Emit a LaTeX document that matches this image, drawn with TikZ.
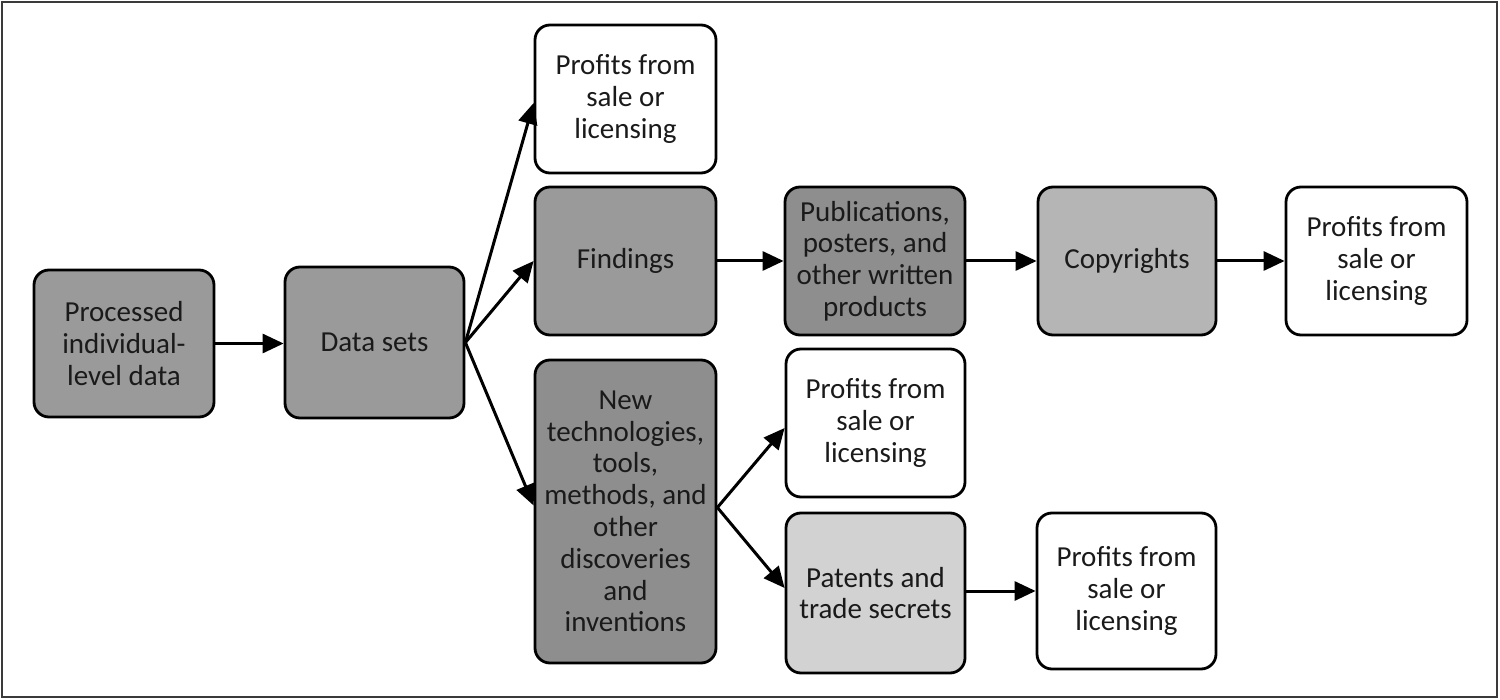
\documentclass[tikz,border=0pt]{standalone}
\usepackage{fontspec}
\setmainfont{Carlito}
\usetikzlibrary{arrows.meta,calc}
\definecolor{gA}{HTML}{9A9A9A}
\definecolor{gB}{HTML}{8E8E8E}
\definecolor{gC}{HTML}{B5B5B5}
\definecolor{gD}{HTML}{D2D2D2}
\definecolor{frameC}{HTML}{3A3A3A}
\definecolor{txt}{HTML}{1A1A1A}
\begin{document}
\begin{tikzpicture}[x=0.5pt,y=-0.5pt,
  box/.style={draw=black,line width=1.4pt,rounded corners=7.5pt,align=center,text=txt,
    font=\fontsize{14.5}{15.9}\selectfont,inner sep=1pt},
  arr/.style={line width=1.5pt,-{Triangle[length=10.5pt,width=9.5pt]}}]
\useasboundingbox (0,0) rectangle (1500,700);
\draw[frameC,line width=1.2pt] (2,2) rectangle (1497,697);
\node[box,fill=gA,minimum width=90pt,minimum height=73.5pt] (proc) at (124,343.5) {Processed\\individual-\\level data};
\node[box,fill=gA,minimum width=89.5pt,minimum height=75.5pt] (data) at (374.5,342.5) {Data sets};
\node[box,fill=white,minimum width=90.5pt,minimum height=74pt] (p1) at (625.5,99) {Profits from\\sale or\\licensing};
\node[box,fill=gA,minimum width=90.5pt,minimum height=74pt] (find) at (625.5,261) {Findings};
\node[box,fill=gB,minimum width=90pt,minimum height=74pt] (pub) at (875,261) {Publications,\\posters, and\\other written\\products};
\node[box,fill=gC,minimum width=89pt,minimum height=74pt] (copy) at (1127,261) {Copyrights};
\node[box,fill=white,minimum width=90.5pt,minimum height=74pt] (p2) at (1376.5,261) {Profits from\\sale or\\licensing};
\node[box,fill=gB,minimum width=90.5pt,minimum height=151.5pt] (newt) at (625.5,511.5) {New\\technologies,\\tools,\\methods, and\\other\\discoveries\\and\\inventions};
\node[box,fill=white,minimum width=89.5pt,minimum height=74pt] (p3) at (875.5,423) {Profits from\\sale or\\licensing};
\node[box,fill=gD,minimum width=89.5pt,minimum height=80pt] (pat) at (875.5,593) {Patents and\\trade secrets};
\node[box,fill=white,minimum width=89.5pt,minimum height=78pt] (p4) at (1126.5,591) {Profits from\\sale or\\licensing};
\draw[arr] (proc.east) -- (proc.east -| data.west);
\draw[arr] (data.east) -- ($(p1.west)+(0,4)$);
\draw[arr] (data.east) -- (find.west);
\draw[arr] (data.east) -- ($(newt.west)+(0,-6)$);
\draw[arr] (find.east) -- (pub.west);
\draw[arr] (pub.east) -- (copy.west);
\draw[arr] (copy.east) -- (p2.west);
\draw[arr] ($(newt.east)+(0,-4)$) -- ($(p3.west)+(0,5)$);
\draw[arr] ($(newt.east)+(0,-4)$) -- ($(pat.west)+(0,-5)$);
\draw[arr] ($(pat.east)+(0,-2)$) -- ($(pat.east -| p4.west)+(0,-2)$);
\end{tikzpicture}
\end{document}
